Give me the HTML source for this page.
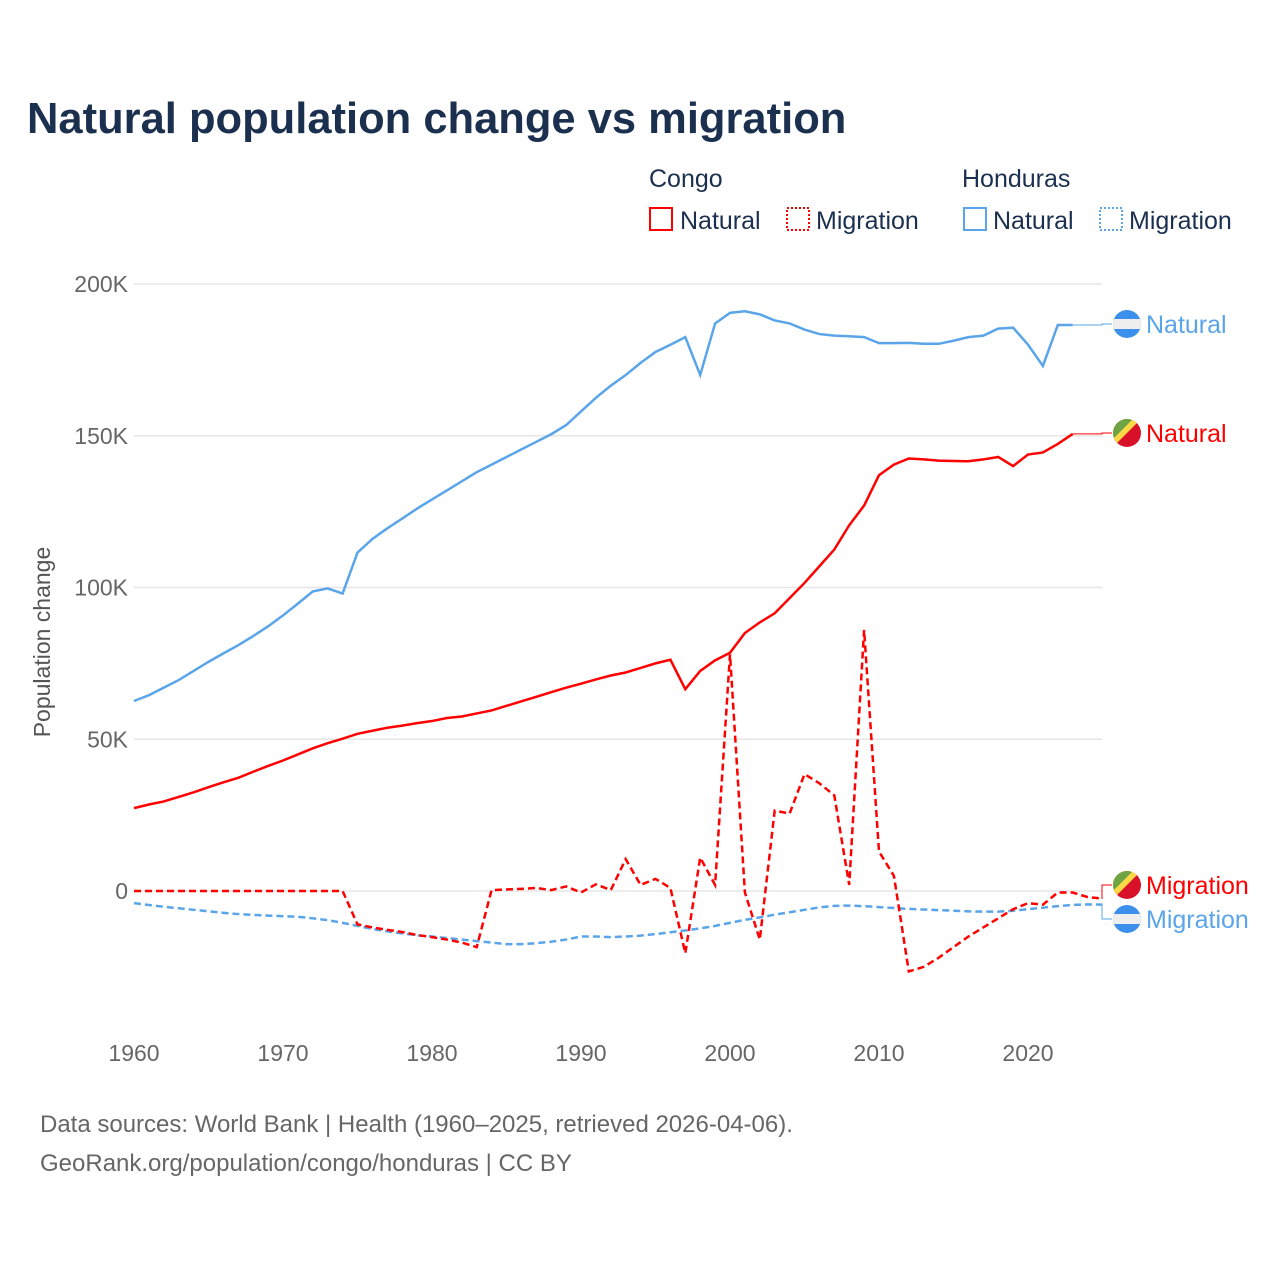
<!DOCTYPE html>
<html><head><meta charset="utf-8">
<style>
body{margin:0;background:#fff;}
svg{display:block;font-family:"Liberation Sans",sans-serif;}
</style></head>
<body>
<svg id="chart" width="1280" height="1280" viewBox="0 0 1280 1280">
<text x="27" y="133" font-size="43.5" font-weight="bold" fill="#1b2f4f">Natural population change vs migration</text>
<g>
<text x="649" y="187" font-size="25" fill="#1b2f4f">Congo</text>
<text x="962" y="187" font-size="25" fill="#1b2f4f">Honduras</text>
<g><rect x="650" y="208" width="22" height="22" fill="none" stroke="#f00" stroke-width="2"/><text x="680" y="229" font-size="25" fill="#1b2f4f">Natural</text></g>
<g><rect x="787" y="208" width="22" height="22" fill="none" stroke="#f00" stroke-width="2" stroke-dasharray="2,2"/><text x="816" y="229" font-size="25" fill="#1b2f4f">Migration</text></g>
<g><rect x="964" y="208" width="22" height="22" fill="none" stroke="#5aa5ea" stroke-width="2"/><text x="993" y="229" font-size="25" fill="#1b2f4f">Natural</text></g>
<g><rect x="1100" y="208" width="22" height="22" fill="none" stroke="#5aa5ea" stroke-width="2" stroke-dasharray="2,2"/><text x="1129" y="229" font-size="25" fill="#1b2f4f">Migration</text></g>
</g>
<text transform="translate(50,642) rotate(-90)" text-anchor="middle" font-size="23" fill="#555">Population change</text>
<g id="grid"></g><g id="series"></g><g id="labels"></g>
<text x="40" y="1132" font-size="24" fill="#666">Data sources: World Bank | Health (1960–2025, retrieved 2026-04-06).</text>
<text x="40" y="1171" font-size="24" fill="#666">GeoRank.org/population/congo/honduras | CC BY</text>
</svg>
<script>
const years=[];for(let y=1960;y<=2025;y++)years.push(y);
const yTicks=[0,50000,100000,150000,200000];
const yTickLabels=["0","50K","100K","150K","200K"];
const xTicks=[1960,1970,1980,1990,2000,2010,2020];
const hondurasNatural=[62.6,64.5,67,69.5,72.5,75.5,78.3,81,84,87.2,90.8,94.7,98.7,99.7,98,111.5,116,119.5,122.7,126,129,132,135,138,140.5,143,145.5,148,150.5,153.5,158,162.5,166.5,170,174,177.6,180,182.5,170,187,190.5,191,190,188,187,185,183.5,183,182.8,182.5,180.5,180.5,180.6,180.3,180.3,181.3,182.5,183,185.3,185.6,180,173,186.5,186.5];
const congoNatural=[27.3,28.5,29.5,31,32.5,34.2,35.8,37.3,39.3,41.2,43,45,47,48.7,50.2,51.8,52.8,53.8,54.5,55.3,56,57,57.5,58.5,59.5,61,62.5,64,65.5,67,68.3,69.7,71,72,73.5,75,76.2,66.5,72.5,76,78.5,85,88.5,91.5,96.5,101.5,107,112.5,120.5,127,137,140.5,142.5,142.2,141.8,141.7,141.6,142.2,143,140,143.8,144.5,147.3,150.6];
const congoMigration=[0,0,0,0,0,0,0,0,0,0,0,0,0,0,0,-11,-12,-12.8,-13.5,-14.5,-15.2,-16,-17,-18.5,0.3,0.5,0.7,1,0.3,1.5,-0.5,2.2,0.3,10.5,2,4,1,-20.5,11,2,78,-0.5,-16,26.5,25.5,38.5,35.5,31.5,2,86,13,5,-26.5,-25,-22,-18.5,-15,-12,-9,-6,-4,-4.5,-0.5,-0.5,-2,-2.5];
const hondurasMigration=[-4,-4.6,-5.2,-5.7,-6.2,-6.7,-7.2,-7.6,-7.9,-8.1,-8.3,-8.5,-9,-9.6,-10.5,-11.5,-12.5,-13.3,-14,-14.6,-15,-15.5,-16,-16.5,-17,-17.5,-17.5,-17.2,-16.7,-16,-15,-15,-15.2,-15,-14.7,-14.2,-13.6,-13,-12.3,-11.5,-10.5,-9.5,-8.7,-7.8,-7,-6.2,-5.4,-4.9,-4.8,-5,-5.3,-5.6,-5.9,-6.1,-6.3,-6.5,-6.7,-6.8,-6.8,-6.5,-6,-5.5,-5,-4.6,-4.4,-4.5];
const NS="http://www.w3.org/2000/svg";
const x0=134,pxYear=14.9,yZero=891,pxPer=607/200000;
const xs=y=>x0+(y-1960)*pxYear;
const ys=v=>yZero-v*pxPer;
const grid=document.getElementById('grid');
yTicks.forEach((t,i)=>{
 const l=document.createElementNS(NS,'line');
 
 
 l.setAttribute('x1',134);l.setAttribute('x2',1102);l.setAttribute('y1',ys(t));l.setAttribute('y2',ys(t));
 l.setAttribute('stroke','#e6e6e6');l.setAttribute('stroke-width','1.5');grid.appendChild(l);
 const tx=document.createElementNS(NS,'text');
 
 
 tx.setAttribute('x',128);tx.setAttribute('y',ys(t)+8);tx.setAttribute('text-anchor','end');
 tx.setAttribute('font-size','23');tx.setAttribute('fill','#666');tx.textContent=yTickLabels[i];grid.appendChild(tx);
});
xTicks.forEach(t=>{
 const tx=document.createElementNS(NS,'text');
 
 
 tx.setAttribute('x',xs(t));tx.setAttribute('y',1061);tx.setAttribute('text-anchor','middle');
 tx.setAttribute('font-size','23');tx.setAttribute('fill','#666');tx.textContent=t;grid.appendChild(tx);
});
const ser=document.getElementById('series');
function line(arr,color,dash,name){
 const p=document.createElementNS(NS,'polyline');
 
 
 p.setAttribute('points',arr.map((v,i)=>xs(years[i])+','+ys(v*1000)).join(' '));
 p.setAttribute('fill','none');p.setAttribute('stroke',color);p.setAttribute('stroke-width','2.5');
 if(dash)p.setAttribute('stroke-dasharray','7,4');
 ser.appendChild(p);
}
line(hondurasMigration,'#5aa5ea',true,'honduras-migration-line');
line(congoMigration,'#f00',true,'congo-migration-line');
line(hondurasNatural,'#5aa5ea',false,'honduras-natural-line');
line(congoNatural,'#f00',false,'congo-natural-line');
const lab=document.getElementById('labels');
function endLabel(arr,color,ly,text,flag,name){
 const last=arr.length-1,ex=xs(years[last]),ey=ys(arr[last]*1000);
 const c=document.createElementNS(NS,'polyline');
 
 
 c.setAttribute('points',`${ex},${ey} 1102,${ey} 1102,${ly} 1112,${ly}`);
 c.setAttribute('fill','none');c.setAttribute('stroke',color);c.setAttribute('stroke-width','1');lab.appendChild(c);
 const g=document.createElementNS(NS,'g');
 
 
 if(flag==='hn'){
  g.innerHTML=`<clipPath id="c${name}"><circle cx="1127" cy="${ly}" r="14"/></clipPath><g clip-path="url(#c${name})"><rect x="1113" y="${ly-14}" width="28" height="28" fill="#3d8fec"/><rect x="1113" y="${ly-5}" width="28" height="10" fill="#eee"/></g>`;
 }else{
  g.innerHTML=`<clipPath id="c${name}"><circle cx="1127" cy="${ly}" r="14"/></clipPath><g clip-path="url(#c${name})"><rect x="1113" y="${ly-14}" width="28" height="28" fill="#d8102a"/><polygon points="1113,${ly-14} 1141,${ly-14} 1113,${ly+14}" fill="#fcd846"/><polygon points="1113,${ly-14} 1133,${ly-14} 1113,${ly+6}" fill="#6da544"/></g>`;
 }
 lab.appendChild(g);
 const t=document.createElementNS(NS,'text');
 
 
 t.setAttribute('x',1146);t.setAttribute('y',ly+9);t.setAttribute('font-size','25');t.setAttribute('fill',color);t.textContent=text;lab.appendChild(t);
}
endLabel(hondurasNatural,'#5aa5ea',324,'Natural','hn','honduras-natural');
endLabel(congoNatural,'#f00',433,'Natural','cg','congo-natural');
endLabel(congoMigration,'#f00',885,'Migration','cg','congo-migration');
endLabel(hondurasMigration,'#5aa5ea',919,'Migration','hn','honduras-migration');
</script>
</body></html>
